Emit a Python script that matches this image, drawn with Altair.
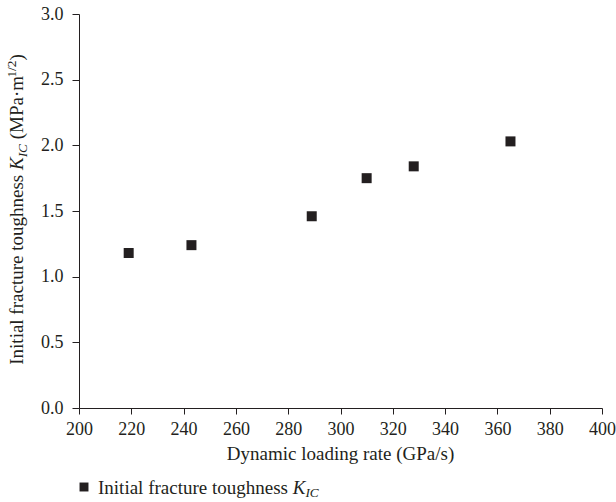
import altair as alt
import pandas as pd

# Measured points: dynamic loading rate vs. initial fracture toughness
loading_rate = [219, 243, 289, 310, 328, 365]
toughness = [1.18, 1.24, 1.46, 1.75, 1.84, 2.03]

x_ticks = [200, 220, 240, 260, 280, 300, 320, 340, 360, 380, 400]
y_ticks = [0.0, 0.5, 1.0, 1.5, 2.0, 2.5, 3.0]

x_title = "Dynamic loading rate (GPa/s)"

INK = "#231f20"
FONT = "Liberation Serif"

# plot area geometry (pixels)
PW, PH = 523, 394
PAD_L, PAD_T = 79, 14
W, H = 616, 502

# Advance widths (em) of the Times-compatible serif face, for laying out
# titles that mix italics, subscripts and superscripts.
ROMAN = {' ': .25, '(': .333, ')': .333, '·': .25, '/': .278, '1': .5, '2': .5,
         'I': .333, 'K': .722, 'C': .667, 'M': .889, 'P': .556, 'a': .444,
         'c': .444, 'e': .444, 'f': .333, 'g': .5, 'h': .5, 'i': .278,
         'l': .278, 'm': .778, 'n': .5, 'o': .5, 'r': .333, 's': .389,
         't': .278, 'u': .5}
ITALIC = dict(ROMAN, K=.667, I=.333, C=.667)


def run_width(text, italic, size):
    table = ITALIC if italic else ROMAN
    return sum(table.get(ch, .5) for ch in text) * size


def rich_text(runs, size, start, base, vertical):
    """Lay out runs of (text, italic, scale, shift) as separate text marks,
    starting at `start` along the reading direction."""
    layers = []
    pos = start
    step = -1 if vertical else 1
    for t, it, sc, shift in runs:
        fs = size * sc
        # SVG drops leading blanks, so advance past them explicitly
        lead = len(t) - len(t.lstrip(" "))
        pos += step * run_width(" " * lead, it, fs)
        body = t.lstrip(" ")
        if vertical:
            enc = dict(x=alt.value(base + shift), y=alt.value(pos))
        else:
            enc = dict(x=alt.value(pos), y=alt.value(base + shift))
        layers.append(
            alt.Chart(pd.DataFrame({"t": [body]}))
            .mark_text(font=FONT, fontSize=fs, fontStyle="italic" if it else "normal",
                       color=INK, align="left", baseline="alphabetic",
                       angle=270 if vertical else 0)
            .encode(text="t:N", **enc)
        )
        pos += step * run_width(body, it, fs)
    return layers


def total_width(runs, size):
    return sum(run_width(t, it, size * sc) for t, it, sc, _ in runs)


points = pd.DataFrame({"rate": loading_rate, "kic": toughness})

base = alt.Chart(points).mark_square(size=100, color=INK, opacity=1).encode(
    x=alt.X("rate:Q",
            scale=alt.Scale(domain=[200, 400], nice=False, zero=False),
            axis=alt.Axis(values=x_ticks, title=None, tickSize=6, labelPadding=6,
                          labelFlush=False, format="d")),
    y=alt.Y("kic:Q",
            scale=alt.Scale(domain=[0, 3], nice=False),
            axis=alt.Axis(values=y_ticks, title=None, tickSize=7, labelPadding=9,
                          labelFlush=False, format=".1f")),
)

# y-axis title: Initial fracture toughness K_IC (MPa·m^1/2)
y_runs = [
    ("Initial fracture toughness ", False, 1.0, 0),
    ("K", True, 1.0, 0),
    ("IC", True, 0.7, 4),
    (" (MPa·m", False, 1.0, 0),
    ("1/2", False, 0.7, -7),
    (")", False, 1.0, 0),
]
y_start = 209.5 - PAD_T + total_width(y_runs, 19) / 2
y_title_layers = rich_text(y_runs, 19, y_start, 23 - PAD_L, vertical=True)

# x-axis title
x_title_layer = (
    alt.Chart(pd.DataFrame({"t": [x_title]}))
    .mark_text(font=FONT, fontSize=19, color=INK, align="center", baseline="alphabetic")
    .encode(text="t:N", x=alt.value(PW / 2), y=alt.value(460 - PAD_T))
)

# legend entry below the axis title
legend_runs = [
    ("Initial fracture toughness ", False, 1.0, 0),
    ("K", True, 1.0, 0),
    ("IC", True, 0.7, 3),
]
legend_text_layers = rich_text(legend_runs, 19, 98 - PAD_L, 494 - PAD_T, vertical=False)
legend_key = (
    alt.Chart(pd.DataFrame({"k": [1]}))
    .mark_square(size=80, color=INK, opacity=1)
    .encode(x=alt.value(84 - PAD_L), y=alt.value(487 - PAD_T))
)

chart = alt.layer(base, *y_title_layers, x_title_layer, legend_key, *legend_text_layers).properties(
    width=PW,
    height=PH,
    padding={"left": PAD_L, "top": PAD_T, "right": W - PAD_L - PW, "bottom": H - PAD_T - PH},
    autosize=alt.AutoSizeParams(type="none"),
    background="white",
).configure_view(stroke=None).configure_axis(
    grid=False,
    labelFont=FONT,
    labelFontSize=18,
    labelColor=INK,
    domainColor=INK,
    tickColor=INK,
    domainWidth=1,
    tickWidth=1,
)

chart.save("out.html", embed_options={"renderer": "svg", "actions": False})
